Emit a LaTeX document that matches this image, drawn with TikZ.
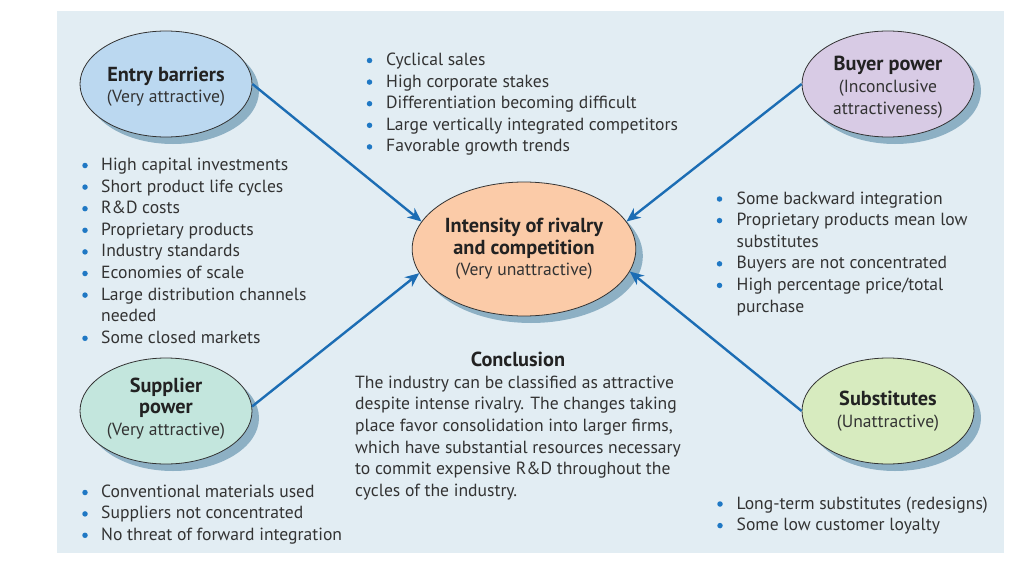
\documentclass[tikz,border=0pt]{standalone}
\usepackage{fontspec}
\setmainfont{PT Sans}
\usetikzlibrary{arrows.meta,shapes.geometric,shadows}

\definecolor{panelbg}{HTML}{E2EDF3}
\definecolor{shadowblue}{HTML}{8DB0C4}
\definecolor{arrowblue}{HTML}{1C6DB4}
\definecolor{dotblue}{HTML}{1F78C4}
\definecolor{txtgray}{HTML}{333333}
\definecolor{titlegray}{HTML}{222222}
\definecolor{entryfill}{HTML}{BBD8F0}
\definecolor{buyerfill}{HTML}{D8CBE5}
\definecolor{rivalfill}{HTML}{FBCBA8}
\definecolor{supplierfill}{HTML}{C3E6DD}
\definecolor{subsfill}{HTML}{D7EBBF}

\newcommand\forcetitle[1]{{\fontsize{20.3}{21.6}\selectfont\bfseries\color{titlegray}#1}}

\tikzset{
  forcebox/.style={ellipse, draw=black!80, line width=0.8pt, minimum width=172pt,
    minimum height=106pt, inner sep=0pt, align=center, text=txtgray,
    drop shadow={shadow xshift=7pt, shadow yshift=-7pt, fill=shadowblue, opacity=1}},
  pullarrow/.style={draw=arrowblue, line width=2.4pt, -{Stealth[length=14pt,width=12pt]}},
  listline/.style={anchor=base west, inner sep=0pt, text=txtgray},
  bulletdot/.style={circle, fill=dotblue, inner sep=0pt, minimum size=5.5pt},
}

\begin{document}
\begin{tikzpicture}[x=1pt, y=-1pt, font=\fontsize{17.6}{21.6}\selectfont]
\useasboundingbox (0,0) rectangle (1024,575);
\fill[white] (0,0) rectangle (1024,575);
\fill[panelbg] (57,11) rectangle (1004,553);

% the five forces
\node[forcebox, fill=entryfill] (entry) at (166,84)
  {\rule{0pt}{20pt}\forcetitle{Entry barriers}\\(Very attractive)};
\node[forcebox, fill=buyerfill] (buyer) at (888,84)
  {\rule{0pt}{21pt}\forcetitle{Buyer power}\\(Inconclusive\\attractiveness)};
\node[forcebox, fill=rivalfill, minimum width=216pt, minimum height=134pt] (rival) at (524,249)
  {\forcetitle{Intensity of rivalry}\\\forcetitle{and competition}\\(Very unattractive)};
\node[forcebox, fill=supplierfill] (supplier) at (166,411)
  {\forcetitle{Supplier}\\\forcetitle{power}\\(Very attractive)\rule[-9pt]{0pt}{9pt}};
\node[forcebox, fill=subsfill] (subs) at (888,411) {\forcetitle{Substitutes}\\(Unattractive)};

\draw[pullarrow] (entry.east) -- (rival.165);
\draw[pullarrow] (buyer.west) -- (rival.15);
\draw[pullarrow] (supplier.3) -- (rival.193);
\draw[pullarrow] (subs.west) -- (rival.-12);

% bullet lists (1 = new item, 0 = wrapped line)
\foreach \k/\txt [count=\i from 0] in {1/High capital investments, 1/Short product life cycles,
    1/R\&D costs, 1/Proprietary products, 1/Industry standards, 1/Economies of scale,
    1/Large distribution channels, 0/needed, 1/Some closed markets} {
  \pgfmathsetmacro\yy{170.5+21.6*\i}
  \ifnum\k=1 \node[bulletdot] (entrydot\i) at (85,\yy-5) {};\fi
  \node[listline] (entryline\i) at (101,\yy) {\txt};
}
\foreach \txt [count=\i from 0] in {Cyclical sales, High corporate stakes,
    Differentiation becoming difficult, Large vertically integrated competitors,
    Favorable growth trends} {
  \pgfmathsetmacro\yy{65.5+21.6*\i}
  \node[bulletdot] (rivaldot\i) at (369.5,\yy-5) {};
  \node[listline] (rivalline\i) at (386,\yy) {\txt};
}
\foreach \k/\txt [count=\i from 0] in {1/Some backward integration, 1/Proprietary products mean low,
    0/substitutes, 1/Buyers are not concentrated, 1/{High percentage price/total}, 0/purchase} {
  \pgfmathsetmacro\yy{204+21.6*\i}
  \ifnum\k=1 \node[bulletdot] (buyerdot\i) at (719.5,\yy-5) {};\fi
  \node[listline] (buyerline\i) at (736.5,\yy) {\txt};
}
\foreach \txt [count=\i from 0] in {Conventional materials used, Suppliers not concentrated,
    No threat of forward integration} {
  \pgfmathsetmacro\yy{497.5+21.4*\i}
  \node[bulletdot] (supplierdot\i) at (85,\yy-5) {};
  \node[listline] (supplierline\i) at (101,\yy) {\txt};
}
\foreach \txt [count=\i from 0] in {Long-term substitutes (redesigns), Some low customer loyalty} {
  \pgfmathsetmacro\yy{509+21.6*\i}
  \node[bulletdot] (subsdot\i) at (720,\yy-5) {};
  \node[listline] (subsline\i) at (736.5,\yy) {\txt};
}

% conclusion
\node[anchor=base, inner sep=0pt] (conctitle) at (518,366.7) {\forcetitle{Conclusion}};
\foreach \txt [count=\i from 0] in {The industry can be classified as attractive,
    despite intense rivalry. The changes taking, {place favor consolidation into larger firms,},
    which have substantial resources necessary, to commit expensive R\&D throughout the,
    cycles of the industry.} {
  \node[listline] (concline\i) at (355,388.3+21.6*\i) {\txt};
}
\end{tikzpicture}
\end{document}
